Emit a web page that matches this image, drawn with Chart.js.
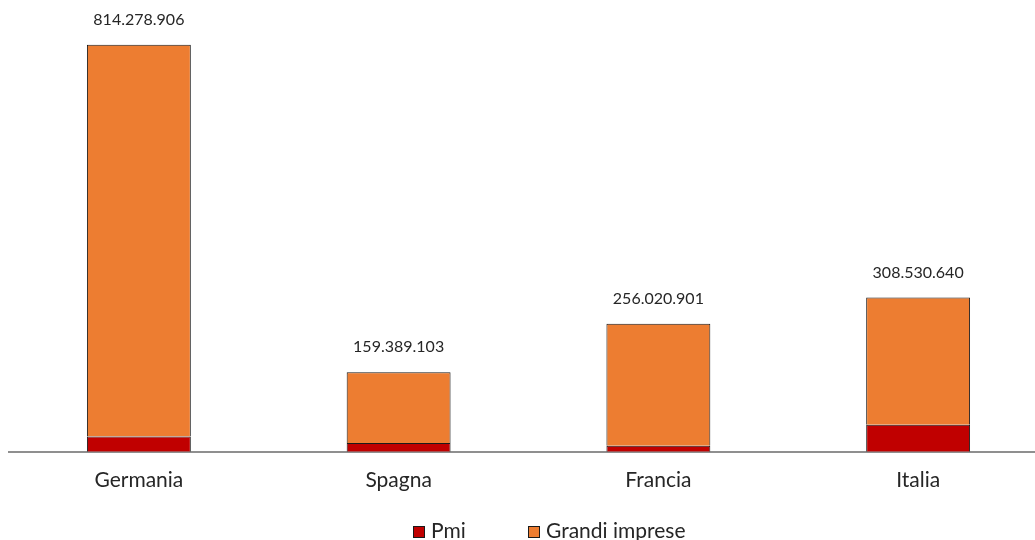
<!DOCTYPE html>
<html>
<head>
<meta charset="utf-8">
<script src="https://cdn.jsdelivr.net/npm/chart.js@4/dist/chart.umd.min.js"></script>
<style>
  html, body { margin: 0; padding: 0; background: #ffffff; overflow: hidden; }
  #wrap { position: absolute; left: 0; top: 0; width: 1048px; height: 540px; }
</style>
</head>
<body>
<div id="wrap"><canvas id="c"></canvas></div>
<script>
// Categories and series (euro)
const countries = ['Germania', 'Spagna', 'Francia', 'Italia'];
const pmi = [30600000, 17400000, 12000000, 54000000];
const grandiImprese = [783678906, 141989103, 244020901, 254530640];
const seriesNames = ['Pmi', 'Grandi imprese'];

const RED = '#C00000';
const ORANGE = '#ED7D31';
const EDGE = '#1a1a1a';
const TEXT = '#262626';
const FONT = 'Lato, "Open Sans", sans-serif';

function formatIt(n) {
  return String(Math.round(n)).replace(/\B(?=(\d{3})+(?!\d))/g, '.');
}

// Writes the stack total above each bar
const totalLabels = {
  id: 'totalLabels',
  afterDatasetsDraw(chart) {
    const { ctx } = chart;
    const top = chart.getDatasetMeta(1);
    ctx.save();
    ctx.font = '16px ' + FONT;
    ctx.fillStyle = TEXT;
    ctx.textAlign = 'center';
    ctx.textBaseline = 'middle';
    top.data.forEach((bar, i) => {
      const total = pmi[i] + grandiImprese[i];
      ctx.fillText(formatIt(total), bar.x, bar.y - 25);
    });
    ctx.restore();
  }
};

// Legend row under the axis labels, with wide spacing between entries
const bottomLegend = {
  id: 'bottomLegend',
  afterDraw(chart) {
    const { ctx } = chart;
    const colors = [RED, ORANGE];
    const startX = [413, 528];
    ctx.save();
    ctx.font = '21px ' + FONT;
    ctx.textBaseline = 'middle';
    ctx.textAlign = 'left';
    seriesNames.forEach((name, i) => {
      const x = startX[i];
      ctx.fillStyle = colors[i];
      ctx.fillRect(x, 526, 12, 12);
      ctx.strokeStyle = EDGE;
      ctx.lineWidth = 1;
      ctx.strokeRect(x + 0.5, 526.5, 11, 11);
      ctx.fillStyle = TEXT;
      ctx.fillText(name, x + 18, 531);
    });
    ctx.restore();
  }
};

new Chart(document.getElementById('c'), {
  type: 'bar',
  data: {
    labels: countries,
    datasets: [
      { label: seriesNames[0], data: pmi, backgroundColor: RED, borderColor: EDGE, borderWidth: 1 },
      { label: seriesNames[1], data: grandiImprese, backgroundColor: ORANGE, borderColor: EDGE, borderWidth: 1 }
    ]
  },
  options: {
    responsive: true,
    maintainAspectRatio: false,
    animation: false,
    layout: { padding: { left: 9, right: 0, top: 2, bottom: 31 } },
    datasets: { bar: { categoryPercentage: 1, barPercentage: 0.4 } },
    scales: {
      x: {
        stacked: true,
        grid: { display: false, drawTicks: false },
        border: { display: true, color: '#8f8f8f', width: 2 },
        ticks: { color: TEXT, font: { family: FONT, size: 21 }, padding: 16 }
      },
      y: {
        stacked: true,
        display: false,
        min: 0,
        max: 900000000
      }
    },
    plugins: {
      legend: { display: false },
      tooltip: { enabled: false }
    }
  },
  plugins: [totalLabels, bottomLegend]
});
</script>
</body>
</html>
